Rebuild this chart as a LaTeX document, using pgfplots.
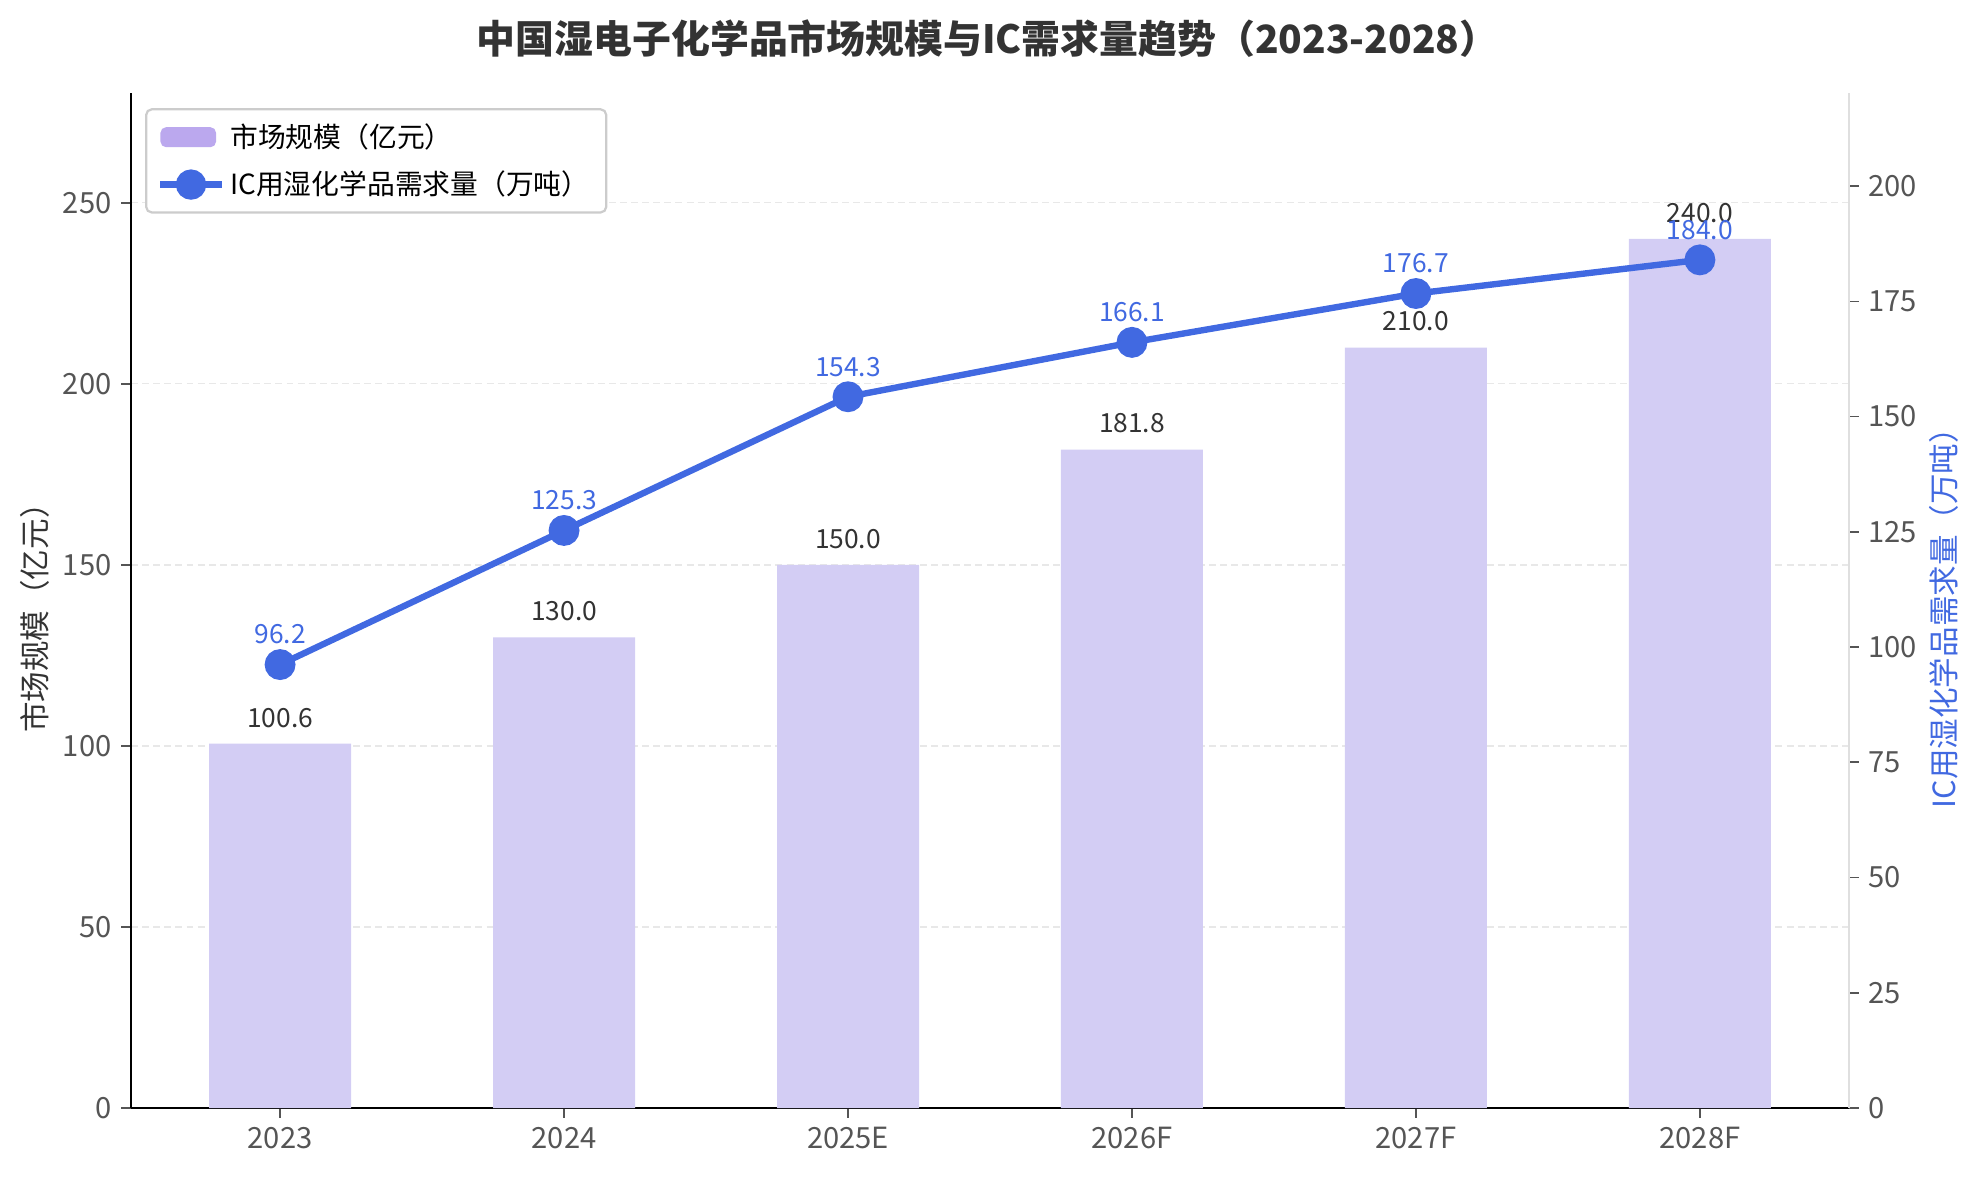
\documentclass[border=0pt]{standalone}
\usepackage{pgfplots}
\pgfplotsset{compat=1.18}
\usepackage{fontspec}
\setmainfont{Noto Sans CJK SC}
\definecolor{barcol}{HTML}{D3CDF4}
\definecolor{legcol}{HTML}{BBA8EE}
\definecolor{linecol}{HTML}{4169E1}
\definecolor{tickgray}{HTML}{555555}
\definecolor{txtdark}{HTML}{333333}
\definecolor{gridcol}{HTML}{E8E8E8}
\begin{document}
\begin{tikzpicture}
\useasboundingbox (-47.16pt,-25.2pt) rectangle (665.28pt,398.88pt);
\pgfplotsset{
  every axis/.append style={
    scale only axis, width=618.48pt, height=365.4pt,
    xmin=-0.525, xmax=5.525, at={(0pt,0pt)}, anchor=south west,
    /pgf/number format/assume math mode=true,
    tick align=outside, major tick length=3.5pt,
    tick label style={font=\fontsize{10.5}{12}\selectfont, text=tickgray},
    tick style={tickgray, line width=0.6pt},
  },
}
\begin{axis}[
  axis x line*=bottom, axis y line*=left,
  axis line style={-, black, line width=0.9pt},
  ymin=0, ymax=280.3,
  ytick={0,50,...,250},
  xtick={0,...,5}, xticklabels={2023,2024,2025E,2026F,2027F,2028F},
  ymajorgrids, major grid style={dash pattern=on 2.5pt off 1.5pt, color=gridcol, line width=0.5pt},
  ylabel={市场规模（亿元）},
  ylabel style={at={(axis description cs:-0.056,0.49)}, anchor=center, font=\fontsize{11}{13}\selectfont, text=txtdark},
  legend style={at={(rel axis cs:0.0082,0.985)}, anchor=north west, draw=gray!40, rounded corners=2pt, line width=0.8pt, font=\fontsize{10}{12}\selectfont, inner xsep=4pt, inner ysep=3pt, row sep=3pt, cells={anchor=west}},
  legend image code/.code={\draw[mark repeat=2,mark phase=2,#1] plot coordinates {(0pt,0pt) (11pt,0pt) (22pt,0pt)};},
]
\addplot[ybar, bar width=0.5, fill=barcol, draw=none,
  nodes near coords={\pgfmathprintnumber[fixed,fixed zerofill,precision=1]{\pgfplotspointmeta}},
  every node near coord/.append style={anchor=center, yshift=9.4pt, text=txtdark, font=\fontsize{9.5}{11}\selectfont},
  legend image code/.code={\fill[legcol] (0pt,-3.6pt) rectangle (20pt,3.6pt);}]
  coordinates {(0,100.6) (1,130.0) (2,150.0) (3,181.8) (4,210.0) (5,240.0)};
\addlegendentry{市场规模（亿元）}
\addlegendimage{color=linecol, line width=2.3pt, mark=*, mark size=4.3pt}
\addlegendentry{IC用湿化学品需求量（万吨）}
\end{axis}
\begin{axis}[
  axis y line*=right, axis x line=none,
  axis line style={-, color=gray!25, line width=0.9pt},
  ymin=0, ymax=220.2, ytick={0,25,...,200},
  ylabel={IC用湿化学品需求量（万吨）},
  ylabel style={at={(axis description cs:1.0553,0.49)}, anchor=center, font=\fontsize{11}{13}\selectfont, text=linecol},
]
\addplot[color=linecol, line width=2.3pt, mark=*, mark size=4.4pt,
  nodes near coords={\pgfmathprintnumber[fixed,fixed zerofill,precision=1]{\pgfplotspointmeta}},
  every node near coord/.append style={anchor=center, yshift=10.8pt, text=linecol, font=\fontsize{9.5}{11}\selectfont}]
  coordinates {(0,96.2) (1,125.3) (2,154.3) (3,166.1) (4,176.7) (5,184.0)};
\end{axis}
\node[font=\fontsize{14}{17}\selectfont\bfseries, text=txtdark] at (308.4pt,385pt) {中国湿电子化学品市场规模与IC需求量趋势（2023-2028）};
\end{tikzpicture}
\end{document}
